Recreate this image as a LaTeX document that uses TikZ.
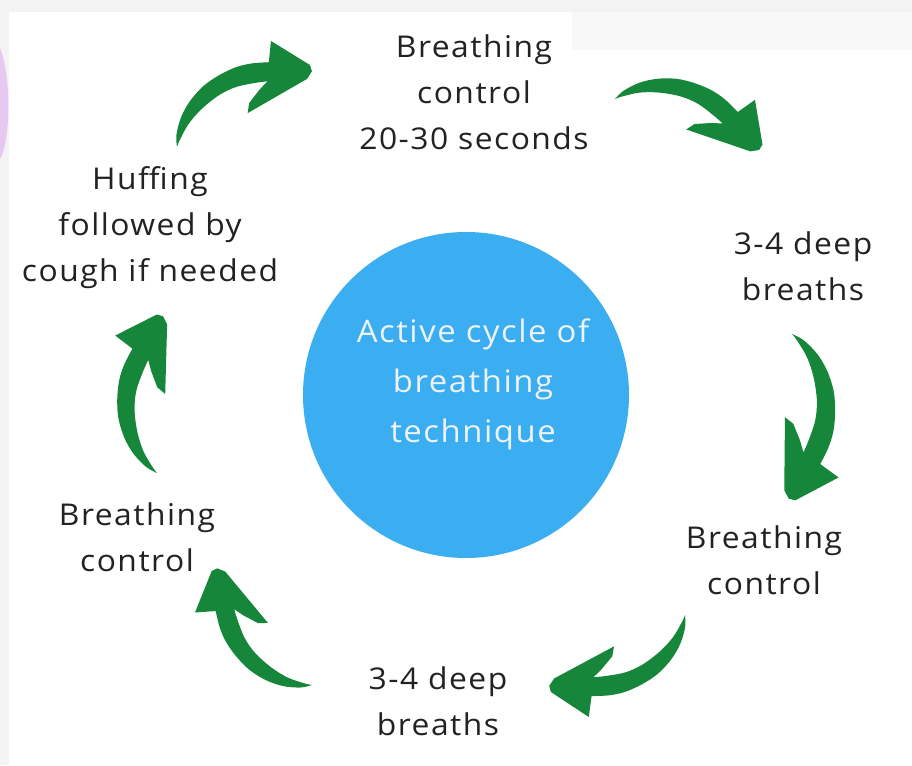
\documentclass[tikz,border=0pt]{standalone}
\usepackage{fontspec}
\setmainfont[LetterSpace=5,FakeStretch=1.06]{Open Sans}
\definecolor{cgreen}{RGB}{22,134,58}
\definecolor{cblue}{RGB}{58,174,240}
\definecolor{ctext}{RGB}{34,34,34}
\definecolor{cpurple}{RGB}{231,200,243}
\definecolor{cgreyA}{RGB}{243,243,243}
\definecolor{cgreyB}{RGB}{248,248,248}
\definecolor{chubtext}{RGB}{238,242,245}
\tikzset{
  lbl/.style={align=center, text=ctext, font=\fontsize{30}{46}\selectfont, inner sep=0pt},
  hub/.style={circle, fill=cblue, minimum size=326pt, inner sep=0pt},
  hubtext/.style={align=center, text=chubtext, font=\fontsize{31}{50}\selectfont, inner sep=0pt},
  cycarrow/.pic={
    \fill[cgreen]
      plot[smooth, tension=0.55] coordinates {(0,0) (3.6,6.8) (11.6,14.8) (21.6,20.8) (33.5,24.7) (45.5,25.7) (57.5,24.7) (67.5,21.7) (77.4,16.8)}
      -- (85.4,27.7) -- (99,2) -- (98,-2) -- (93,-4.6) -- (49.5,-4.2) -- (53.5,0.8) -- (63.5,4.8) -- (70.5,6.8)
      -- plot[smooth, tension=0.55] coordinates {(70.5,6.8) (63.5,9.8) (51.5,13.8) (39.5,14.8) (25.6,12.8) (13.6,8.8) (3.6,2.8) (0,0)}
      -- cycle;
  }
}
\begin{document}
\begin{tikzpicture}[x=1pt,y=1pt]
\useasboundingbox (0,0) rectangle (912,765);
% background
\fill[cgreyA] (0,0) rectangle (912,765);
\fill[white] (9,0) rectangle (912,753);
\fill[cgreyB] (572,715) rectangle (912,753);
\fill[cpurple] (0,717) .. controls (11,690) and (11,630) .. (1,607) -- (0,607) -- cycle;

% hub
\node[hub] (hub) at (466,370) {};
\node[hubtext] (hubtxt) at (473,381) {Active cycle of\\breathing\\technique};

% step labels
\node[lbl] (s1) at (474,673) {Breathing\\control\\20-30 seconds};
\node[lbl] (s2) at (803,499) {3-4 deep\\breaths};
\node[lbl] (s3) at (764,205) {Breathing\\control};
\node[lbl] (s4) at (438,64) {3-4 deep\\breaths};
\node[lbl] (s5) at (137,228) {Breathing\\control};
\node[lbl] (s6) at (150,537) {Huffing\\followed by\\cough if needed};

% arrows (tail coordinates)
\coordinate (a1) at (177,618);
\coordinate (a2) at (615,666);
\coordinate (a3) at (792,431);
\coordinate (a4) at (685,150);
\coordinate (a5) at (312,80);
\coordinate (a6) at (157,292);
\path (a1) pic[rotate=30.47, scale=1.578] {cycarrow};
\path (a2) pic[rotate=-18.32, scale=1.559] {cycarrow};
\path (a3) pic[rotate=-90, scale=1.68] {cycarrow};
\path (a4) pic[rotate=208.70, scale=1.562] {cycarrow};
\path (a5) pic[rotate=130.24, scale=1.533] {cycarrow};
\path (a6) pic[rotate=88.93, scale=1.600] {cycarrow};
\end{tikzpicture}
\end{document}
